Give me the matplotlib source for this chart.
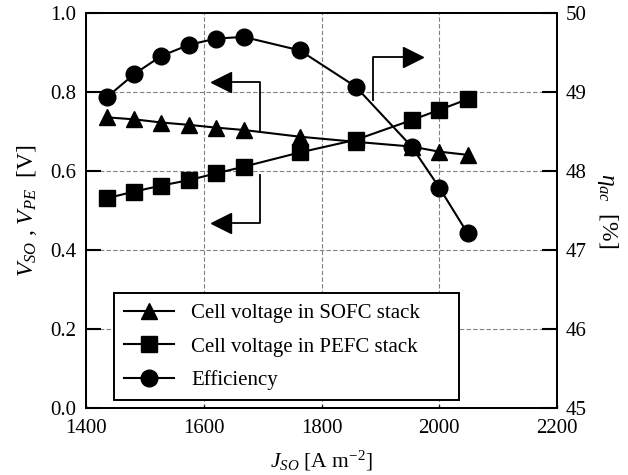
import matplotlib.pyplot as plt
import numpy as np

plt.rcParams['font.family'] = ['Liberation Serif', 'DejaVu Serif']
plt.rcParams['mathtext.fontset'] = 'custom'
plt.rcParams['mathtext.rm'] = 'Liberation Serif'
plt.rcParams['mathtext.it'] = 'Liberation Serif:italic'

# DADOS

j_so = [1436, 1482, 1528, 1575, 1621, 1668, 1763, 1858, 1953, 2000, 2048]
v_so = [0.736, 0.731, 0.723, 0.717, 0.710, 0.704, 0.687, 0.674, 0.662, 0.649, 0.641]
v_pe = [0.531, 0.548, 0.563, 0.577, 0.594, 0.611, 0.647, 0.679, 0.729, 0.755, 0.782]
eta = [48.94, 49.23, 49.46, 49.60, 49.68, 49.70, 49.53, 49.07, 48.31, 47.79, 47.21]

labels = ['Cell voltage in SOFC stack', 'Cell voltage in PEFC stack', 'Efficiency']

x_ticks = [1400, 1600, 1800, 2000, 2200]
v_ticks = [0.0, 0.2, 0.4, 0.6, 0.8, 1.0]
eta_ticks = [45, 46, 47, 48, 49, 50]

# setas indicando o eixo de cada curva: (x, y, ponta)
setas = [
    ([1696, 1696, 1649], [0.702, 0.825, 0.825], 1630, '<'),
    ([1696, 1696, 1649], [0.590, 0.467, 0.467], 1630, '<'),
    ([1887, 1887, 1938], [0.780, 0.888, 0.888], 1955, '>'),
]

# FIGURA

fig = plt.figure(figsize=(6.28, 4.75), dpi=100)
ax = fig.add_axes([0.137, 0.142, 0.750, 0.830])
ax2 = ax.twinx()

ax.set_xlim(1400, 2200)
ax.set_ylim(0, 1.0)
ax2.set_ylim(45, 50)

ax.set_xticks(x_ticks)
ax.set_yticks(v_ticks)
ax.set_yticklabels(['%.1f' % v for v in v_ticks])
ax2.set_yticks(eta_ticks)

ax.grid(True, linestyle=(0, (4, 2)), color='#808080', linewidth=0.8)

l1, = ax.plot(j_so, v_so, 'k-^', ms=12, lw=1.5)
l2, = ax.plot(j_so, v_pe, 'k-s', ms=12, lw=1.5)
l3, = ax2.plot(j_so, eta, 'k-o', ms=12, lw=1.5)

for xs, ys, xc, mk in setas:
    ax.plot(xs, ys, 'k-', lw=1.3)
    ax.plot(xc, ys[-1], 'k', marker=mk, ms=15, ls='none')

for a in (ax, ax2):
    for s in a.spines.values():
        s.set_linewidth(1.4)
ax.tick_params(axis='y', direction='in', length=11, width=1.5, pad=7, labelsize=15)
ax2.tick_params(axis='y', direction='in', length=11, width=1.5, pad=6, labelsize=15)
ax.tick_params(axis='x', direction='in', length=2, width=1, pad=8, labelsize=15)

ax.set_xlabel(r'$J_{SO}$ [A m$^{-2}$]', fontsize=15.5, labelpad=8)
ax.set_ylabel(r'$V_{SO}$ , $V_{PE}$  [V]', fontsize=17, labelpad=8)
ax2.set_ylabel(r'$\eta_{ac}$  [%]', fontsize=17, rotation=270, labelpad=24)

leg = ax2.legend([l1, l2, l3], labels, loc='lower left',
                 bbox_to_anchor=(0.059, 0.018, 0.732, 0.30), mode='expand',
                 borderaxespad=0, fontsize=15, fancybox=False, framealpha=1,
                 edgecolor='k', handlelength=2.4, labelspacing=0.65,
                 borderpad=0.5, handletextpad=0.8)
leg.get_frame().set_linewidth(1.4)

fig.savefig('out.png', dpi=100)
